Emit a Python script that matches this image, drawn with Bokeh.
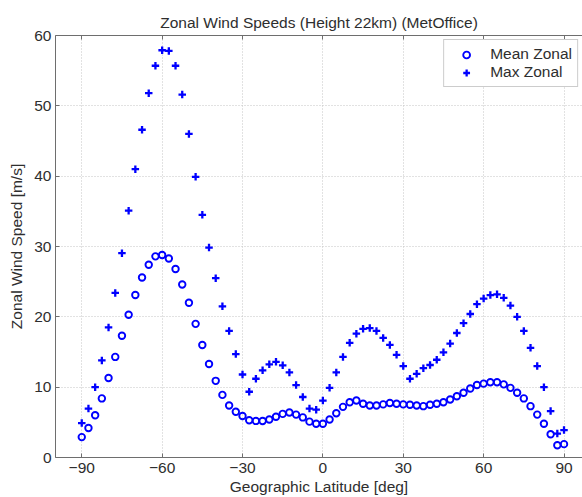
from bokeh.plotting import figure
from bokeh.models import Range1d, LinearAxis, FixedTicker, Legend, LegendItem, ColumnDataSource
from bokeh.embed import file_html
from bokeh.resources import INLINE

latitude = [-90, -87.5, -85, -82.5, -80, -77.5, -75, -72.5, -70, -67.5, -65, -62.5,
            -60, -57.5, -55, -52.5, -50, -47.5, -45, -42.5, -40, -37.5, -35, -32.5,
            -30, -27.5, -25, -22.5, -20, -17.5, -15, -12.5, -10, -7.5, -5, -2.5,
            0, 2.5, 5, 7.5, 10, 12.5, 15, 17.5, 20, 22.5, 25, 27.5,
            30, 32.5, 35, 37.5, 40, 42.5, 45, 47.5, 50, 52.5, 55, 57.5,
            60, 62.5, 65, 67.5, 70, 72.5, 75, 77.5, 80, 82.5, 85, 87.5, 90]

mean_zonal = [2.9, 4.2, 6.0, 8.4, 11.3, 14.3, 17.3, 20.3, 23.1, 25.6, 27.4, 28.6,
              28.8, 28.3, 26.8, 24.6, 22.0, 19.0, 16.0, 13.3, 10.9, 8.9, 7.4, 6.5,
              5.9, 5.3, 5.2, 5.2, 5.4, 5.8, 6.2, 6.4, 6.1, 5.7, 5.1, 4.8,
              4.8, 5.4, 6.3, 7.2, 7.85, 8.1, 7.65, 7.4, 7.4, 7.55, 7.75, 7.65,
              7.55, 7.5, 7.4, 7.3, 7.5, 7.65, 7.85, 8.25, 8.7, 9.2, 9.8, 10.3,
              10.5, 10.7, 10.7, 10.4, 9.9, 9.2, 8.4, 7.3, 6.1, 4.8, 3.3, 1.75, 1.9]

max_zonal = [4.9, 6.95, 10.0, 13.8, 18.5, 23.4, 29.05, 35.1, 41.0, 46.6, 51.8, 55.7,
             57.9, 57.8, 55.7, 51.6, 46.0, 39.9, 34.5, 29.85, 25.5, 21.5, 18.0, 14.7,
             11.8, 9.35, 11.2, 12.4, 13.25, 13.6, 13.1, 12.1, 10.3, 8.6, 6.95, 6.8,
             8.1, 9.9, 12.1, 14.3, 16.3, 17.6, 18.3, 18.4, 18.0, 17.0, 16.0, 14.6,
             13.0, 11.2, 11.9, 12.7, 13.15, 13.9, 14.95, 16.2, 17.7, 19.1, 20.4, 21.8,
             22.6, 23.1, 23.2, 22.7, 21.6, 20.0, 18.0, 15.6, 13.0, 10.0, 6.6, 3.4, 3.9]

x_ticks = [-90, -60, -30, 0, 30, 60, 90]
y_ticks = [0, 10, 20, 30, 40, 50, 60]

FONT = "Liberation Sans"
FS = "15.5px"
TXT = "#2e2e2e"
AX = "#6e6e6e"
BLUE = "#0000ff"

src = ColumnDataSource(dict(lat=latitude, mean=mean_zonal, mx=max_zonal))

p = figure(width=582, height=497, output_backend="svg", toolbar_location=None,
           x_range=Range1d(-99.8, 96.9), y_range=Range1d(0, 60),
           min_border_left=55, min_border_right=0, min_border_top=35, min_border_bottom=40,
           title="Zonal Wind Speeds (Height 22km) (MetOffice)")
p.outline_line_color = None
p.background_fill_color = "white"
p.border_fill_color = "white"

p.title.text_font = FONT
p.title.text_font_size = FS
p.title.text_font_style = "normal"
p.title.text_color = TXT
p.title.align = "center"

for ax in (p.xaxis[0], p.yaxis[0]):
    ax.major_label_text_font = FONT
    ax.major_label_text_font_size = FS
    ax.major_label_text_color = TXT
    ax.axis_label_text_font = FONT
    ax.axis_label_text_font_size = FS
    ax.axis_label_text_font_style = "normal"
    ax.axis_label_text_color = TXT
    ax.axis_line_color = AX
    ax.major_tick_line_color = AX
    ax.major_tick_in = 4
    ax.major_tick_out = 0
    ax.minor_tick_line_color = None

p.xaxis.ticker = FixedTicker(ticks=x_ticks)
p.yaxis.ticker = FixedTicker(ticks=y_ticks)
p.xaxis.axis_label = "Geographic Latitude [deg]"
p.yaxis.axis_label = "Zonal Wind Speed [m/s]"
p.xaxis.major_label_standoff = 5
p.xaxis.axis_label_standoff = 2
p.yaxis.major_label_standoff = 4
p.yaxis.axis_label_standoff = 6

# top frame edge with inward ticks (no labels)
top = LinearAxis(ticker=FixedTicker(ticks=x_ticks),
                 major_label_overrides={t: "" for t in x_ticks},
                 major_label_text_font_size="1px",
                 major_label_standoff=0, major_tick_in=4, major_tick_out=0,
                 minor_tick_line_color=None, axis_line_color=AX, major_tick_line_color=AX)
p.add_layout(top, "above")

p.xgrid.ticker = FixedTicker(ticks=x_ticks)
p.ygrid.ticker = FixedTicker(ticks=y_ticks)
for g in (p.xgrid[0], p.ygrid[0]):
    g.grid_line_color = "#c4c4c4"
    g.grid_line_dash = "1 2"
    g.grid_line_width = 1

r1 = p.scatter("lat", "mean", source=src, marker="circle", size=6.5, line_width=1.9,
               line_color=BLUE, fill_color=None)
r2 = p.scatter("lat", "mx", source=src, marker="cross", size=7.5, line_width=2.3,
               line_color=BLUE)

legend = Legend(items=[LegendItem(label="Mean Zonal", renderers=[r1]),
                       LegendItem(label="Max Zonal", renderers=[r2])],
                location="top_right")
legend.margin = 4
legend.padding = 5
legend.spacing = 0
legend.glyph_width = 34
legend.glyph_height = 17
legend.label_height = 17
legend.label_standoff = 7
legend.label_text_font = FONT
legend.label_text_font_size = FS
legend.label_text_color = TXT
legend.border_line_color = "#9a9a9a"
legend.border_line_width = 1
legend.background_fill_color = "white"
legend.background_fill_alpha = 1
p.add_layout(legend)

open("out.html", "w").write(file_html(p, INLINE))
